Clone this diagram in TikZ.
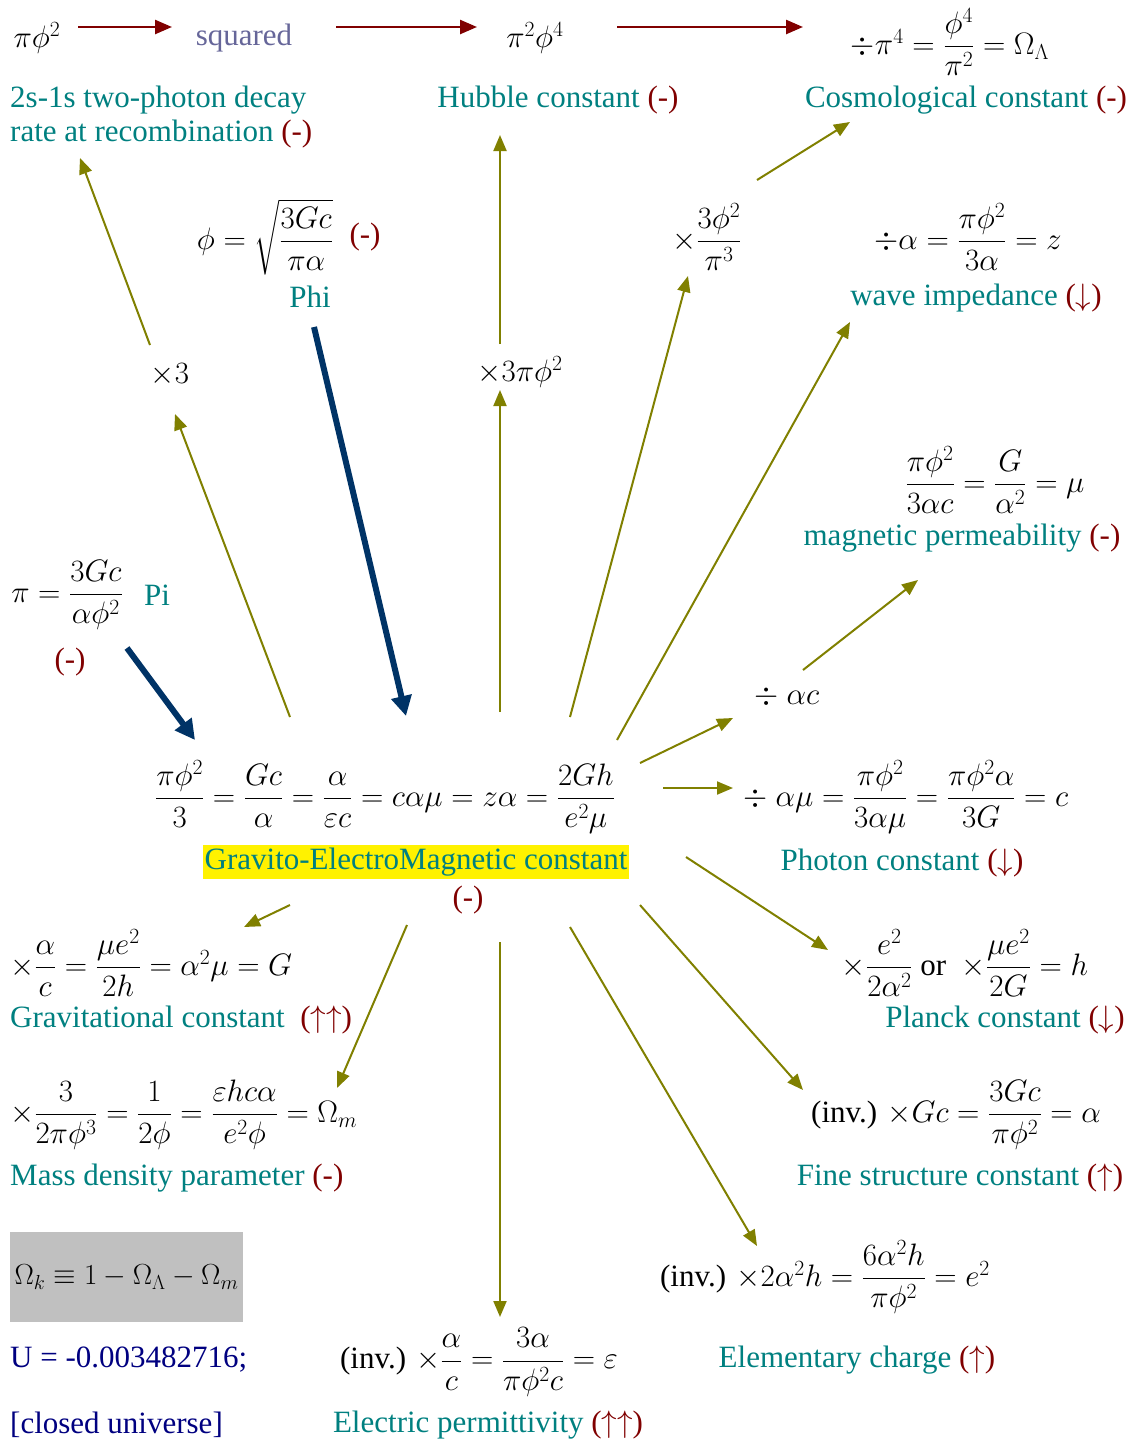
\RequirePackage{fix-cm}
\documentclass[tikz,border=0pt]{standalone}
\usepackage{amsmath}
\usepackage{fontspec}
\setmainfont{Liberation Serif}
\usetikzlibrary{arrows.meta}
\definecolor{tealc}{RGB}{0,128,128}
\definecolor{redc}{RGB}{128,0,0}
\definecolor{olivec}{RGB}{128,128,0}
\definecolor{navyc}{RGB}{0,51,102}
\definecolor{slatec}{RGB}{102,102,153}
\definecolor{bluec}{RGB}{0,0,128}
\definecolor{greyc}{RGB}{192,192,192}
\newcommand{\rd}[1]{\textcolor{redc}{#1}}
\begin{document}
\begin{tikzpicture}[x=1pt,y=-1pt,
  every node/.style={font=\fontsize{31}{34}\selectfont, inner sep=0pt},
  lbl/.style={text=tealc},
  oarr/.style={draw=olivec, line width=2pt, -{Triangle[length=16pt,width=13pt]}, color=olivec},
  narr/.style={draw=navyc, line width=6pt, -{Triangle[length=20pt,width=20pt]}, color=navyc},
  tarr/.style={draw=redc, line width=2.5pt, -{Triangle[length=17pt,width=14pt]}, color=redc}]
\useasboundingbox (0,0) rectangle (1136,1444);
% top row
\node (pphi) at (37,38) {$\pi\phi^2$};
\node[text=slatec] (sq) at (244,38) {squared};
\node (pp4) at (535,38) {$\pi^2\phi^4$};
\node (oml) at (950,42) {$\div\pi^4=\dfrac{\phi^4}{\pi^2}=\Omega_\Lambda$};
\coordinate (t1a) at (78,27); \coordinate (t1b) at (172,27);
\coordinate (t2a) at (336,27); \coordinate (t2b) at (477,27);
\coordinate (t3a) at (617,27); \coordinate (t3b) at (803,27);
\draw[tarr] (t1a) -- (t1b);
\draw[tarr] (t2a) -- (t2b);
\draw[tarr] (t3a) -- (t3b);
% row 2
\node[lbl, align=left, anchor=west] (twos) at (10,117) {2s-1s two-photon decay\\rate at recombination \rd{(-)}};
\node[lbl] (hub) at (558,100) {Hubble constant \rd{(-)}};
\node[lbl] (cos) at (966,100) {Cosmological constant \rd{(-)}};
% phi
\node (phieq) at (265,237) {$\phi=\sqrt{\dfrac{3Gc}{\pi\alpha}}$};
\node (phim) at (365,237) {\rd{(-)}};
\node[lbl] (phi) at (310,297) {Phi};
\node (x3p) at (707,237) {$\times\dfrac{3\phi^2}{\pi^3}$};
\node (za) at (968,237) {$\div\alpha=\dfrac{\pi\phi^2}{3\alpha}=z$};
\node[lbl] (wave) at (976,298) {wave impedance \rd{($\downarrow$)}};
\node (x3) at (170,375) {$\times3$};
\node (x3pp) at (520,372) {$\times3\pi\phi^2$};
% mu
\node (mueq) at (995,480) {$\dfrac{\pi\phi^2}{3\alpha c}=\dfrac{G}{\alpha^2}=\mu$};
\node[lbl] (mu) at (962,538) {magnetic permeability \rd{(-)}};
\node (dac) at (787,697) {$\div\ \alpha c$};
\node (ceq) at (906,797) {$\div\ \alpha\mu=\dfrac{\pi\phi^2}{3\alpha\mu}=\dfrac{\pi\phi^2\alpha}{3G}=c$};
\node[lbl] (phot) at (902,863) {Photon constant \rd{($\downarrow$)}};
% pi
\node (pieq) at (67,595) {$\pi=\dfrac{3Gc}{\alpha\phi^2}$};
\node[lbl] (pi) at (157,595) {Pi};
\node (pim) at (70,662) {\rd{(-)}};
% center
\node (cen) at (385,797) {$\dfrac{\pi\phi^2}{3}=\dfrac{Gc}{\alpha}=\dfrac{\alpha}{\varepsilon c}=c\alpha\mu=z\alpha=\dfrac{2Gh}{e^2\mu}$};
\node[lbl, fill=yellow, inner xsep=2pt, inner ysep=3pt] (gem) at (416,862) {Gravito-ElectroMagnetic constant};
\node (gemm) at (468,900) {\rd{(-)}};
% lower left
\node[anchor=west] (geq) at (10,963) {$\times\dfrac{\alpha}{c}=\dfrac{\mu e^2}{2h}=\alpha^2\mu=G$};
\node[lbl, anchor=west] (grav) at (10,1020) {Gravitational constant\ \ \rd{($\uparrow\uparrow$)}};
\node[anchor=west] (omeq) at (10,1115) {$\times\dfrac{3}{2\pi\phi^3}=\dfrac{1}{2\phi}=\dfrac{\varepsilon hc\alpha}{e^2\phi}=\Omega_m$};
\node[lbl, anchor=west] (mass) at (10,1178) {Mass density parameter \rd{(-)}};
\node[fill=greyc, minimum width=233pt, minimum height=90pt, font=\fontsize{29}{34}\selectfont] (omk) at (126.5,1277) {$\Omega_k\equiv1-\Omega_\Lambda-\Omega_m$};
\node[text=bluec, anchor=west] (u) at (10,1360) {U = -0.003482716;};
\node[text=bluec, anchor=west] (cl) at (10,1425) {[closed universe]};
% lower middle
\node (epseq) at (479,1362) {(inv.) $\times\dfrac{\alpha}{c}=\dfrac{3\alpha}{\pi\phi^2c}=\varepsilon$};
\node[lbl] (eps) at (488,1425) {Electric permittivity \rd{($\uparrow\uparrow$)}};
\node (e2eq) at (825,1277) {(inv.) $\times2\alpha^2h=\dfrac{6\alpha^2h}{\pi\phi^2}=e^2$};
\node[lbl] (elem) at (857,1360) {Elementary charge \rd{($\uparrow$)}};
\node (heq) at (965,963) {$\times\dfrac{e^2}{2\alpha^2}$\ or\ \ $\times\dfrac{\mu e^2}{2G}=h$};
\node[lbl] (planck) at (1005,1020) {Planck constant \rd{($\downarrow$)}};
\node (aeq) at (956,1115) {(inv.) $\times Gc=\dfrac{3Gc}{\pi\phi^2}=\alpha$};
\node[lbl] (fine) at (960,1178) {Fine structure constant \rd{($\uparrow$)}};
% connectors
\coordinate (a1s) at (150,345); \coordinate (a1e) at (80,158);
\coordinate (a2s) at (500,344); \coordinate (a2e) at (500,135);
\coordinate (a3s) at (757,180); \coordinate (a3e) at (850,122);
\coordinate (b1s) at (290,717); \coordinate (b1e) at (175,414);
\coordinate (b2s) at (500,712); \coordinate (b2e) at (500,390);
\coordinate (b3s) at (570,717); \coordinate (b3e) at (688,276);
\coordinate (b4s) at (617,740); \coordinate (b4e) at (850,322);
\coordinate (b5s) at (803,670); \coordinate (b5e) at (918,580);
\coordinate (b6s) at (640,763); \coordinate (b6e) at (733,718);
\coordinate (b7s) at (663,788); \coordinate (b7e) at (733,788);
\coordinate (c1s) at (290,905); \coordinate (c1e) at (244,927);
\coordinate (c2s) at (407,925); \coordinate (c2e) at (337,1088);
\coordinate (c3s) at (500,942); \coordinate (c3e) at (500,1317);
\coordinate (c4s) at (570,927); \coordinate (c4e) at (757,1246);
\coordinate (c5s) at (640,905); \coordinate (c5e) at (803,1090);
\coordinate (c6s) at (686,857); \coordinate (c6e) at (828,950);
\foreach \s/\e in {a1s/a1e,a2s/a2e,a3s/a3e,b1s/b1e,b2s/b2e,b3s/b3e,b4s/b4e,b5s/b5e,b6s/b6e,b7s/b7e,c1s/c1e,c2s/c2e,c3s/c3e,c4s/c4e,c5s/c5e,c6s/c6e}
  \draw[oarr] (\s) -- (\e);
\coordinate (n1s) at (314,327); \coordinate (n1e) at (406,716);
\coordinate (n2s) at (127,648); \coordinate (n2e) at (195,740);
\draw[narr] (n1s) -- (n1e);
\draw[narr] (n2s) -- (n2e);
\end{tikzpicture}
\end{document}
